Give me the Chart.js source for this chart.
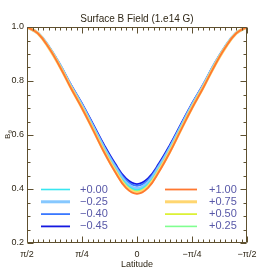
<!DOCTYPE html>
<html><head><meta charset="utf-8">
<script src="https://cdn.jsdelivr.net/npm/chart.js@4/dist/chart.umd.min.js"></script>
<style>html,body{margin:0;padding:0;background:#fff;}#wrap{width:274px;height:274px;}</style>
</head><body><div id="wrap"><canvas id="c" width="274" height="274"></canvas></div>
<script>
// Latitude in degrees (π/2 ... −π/2)
const latitude = [90,81,72,63,54,45,36,27,18,9,0,-9,-18,-27,-36,-45,-54,-63,-72,-81,-90];
const xTickLabels = {"90":"π/2","45":"π/4","0":"0","-45":"−π/4","-90":"−π/2"};
const yTickValues = [0.2,0.4,0.6,0.8,1.0];

const bP100 = [1.000,0.976,0.922,0.852,0.773,0.699,0.619,0.537,0.464,0.404,0.382,0.404,0.464,0.537,0.619,0.699,0.773,0.852,0.922,0.976,1.000];
const bP075 = [1.000,0.976,0.922,0.853,0.775,0.701,0.621,0.540,0.468,0.408,0.386,0.408,0.468,0.540,0.621,0.701,0.775,0.853,0.922,0.976,1.000];
const bP050 = [1.000,0.976,0.923,0.854,0.776,0.703,0.623,0.542,0.470,0.411,0.389,0.411,0.470,0.542,0.623,0.703,0.776,0.854,0.923,0.976,1.000];
const bP025 = [1.000,0.976,0.923,0.855,0.777,0.704,0.625,0.544,0.473,0.414,0.392,0.414,0.473,0.544,0.625,0.704,0.777,0.855,0.923,0.976,1.000];
const bP000 = [1.000,0.976,0.924,0.856,0.778,0.706,0.627,0.547,0.476,0.418,0.396,0.418,0.476,0.547,0.627,0.706,0.778,0.856,0.924,0.976,1.000];
const bM025 = [1.000,0.977,0.925,0.858,0.781,0.709,0.631,0.552,0.482,0.424,0.402,0.424,0.482,0.552,0.631,0.709,0.781,0.858,0.925,0.977,1.000];
const bM040 = [1.000,0.977,0.926,0.860,0.784,0.714,0.637,0.559,0.490,0.433,0.412,0.433,0.490,0.559,0.637,0.714,0.784,0.860,0.926,0.977,1.000];
const bM045 = [1.000,0.977,0.927,0.861,0.786,0.717,0.641,0.564,0.495,0.439,0.418,0.439,0.495,0.564,0.641,0.717,0.786,0.861,0.927,0.977,1.000];

const seriesLabels = ["−0.45","−0.40","−0.25","+0.00","+0.25","+0.50","+0.75","+1.00"];
const seriesValues = [bM045,bM040,bM025,bP000,bP025,bP050,bP075,bP100];
const seriesColors = ["#1418e0","#3a78ff","#86c8ff","#38e6f0","#80ff90","#d8f020","#ffd670","#ff7830"];
const seriesWidths = [1.8,1.8,3,1.6,1.6,1.6,3,1.8];
// legend layout: [column, row]
const legendSlots = {"+0.00":[0,0],"−0.25":[0,1],"−0.40":[0,2],"−0.45":[0,3],"+1.00":[1,0],"+0.75":[1,1],"+0.50":[1,2],"+0.25":[1,3]};

const AXIS = "#5e5030";
const TEXT = "#302818";
const LEG = "#5858a8";
const FONT = "'Liberation Sans', Arial, sans-serif";

const datasets = seriesLabels.map((lab,i)=>({
  label: lab,
  data: latitude.map((x,j)=>({x:x,y:seriesValues[i][j]})),
  borderColor: seriesColors[i],
  backgroundColor: seriesColors[i],
  borderWidth: seriesWidths[i],
  pointRadius: 0,
  tension: 0.4,
  fill: false
}));

const deco = {
  id:'deco',
  afterDraw(chart){
    const {ctx, chartArea:a, scales:{x,y}} = chart;
    ctx.save();
    ctx.strokeStyle = AXIS; ctx.lineWidth = 1;
    const L=Math.round(a.left)+0.5, R=Math.round(a.right)-0.5, T=Math.round(a.top)+0.5, B=Math.round(a.bottom)-0.5;
    ctx.beginPath();
    ctx.moveTo(L,T); ctx.lineTo(R,T); ctx.lineTo(R,B); ctx.lineTo(L,B); ctx.closePath();
    for(let k=-20;k<=20;k++){
      const v=k*4.5; const px=Math.round(x.getPixelForValue(v))+0.5;
      const len = (k%10===0)?6:3;
      ctx.moveTo(px,B); ctx.lineTo(px,B-len);
      ctx.moveTo(px,T); ctx.lineTo(px,T+len);
    }
    for(let k=0;k<=16;k++){
      const v=0.2+k*0.05; const py=Math.round(y.getPixelForValue(v))+0.5;
      const len = (k%4===0)?6:3;
      ctx.moveTo(L,py); ctx.lineTo(L+len,py);
      ctx.moveTo(R,py); ctx.lineTo(R-len,py);
    }
    ctx.stroke();
    // title
    ctx.fillStyle = TEXT; ctx.textAlign='center'; ctx.textBaseline='middle';
    ctx.font = "10px "+FONT;
    ctx.fillText("Surface B Field (1.e14 G)", (a.left+a.right)/2, 19);
    // y title B_theta
    ctx.save();
    ctx.translate(8, (a.top+a.bottom)/2);
    ctx.rotate(-Math.PI/2);
    ctx.font = "8px "+FONT; ctx.textAlign='left';
    ctx.fillText("B", -4, 0);
    ctx.font = "6px "+FONT;
    ctx.fillText("θ", 1.5, 2.5);
    ctx.restore();
    // legend
    ctx.font = "11px "+FONT; ctx.textAlign='left'; ctx.textBaseline='middle';
    chart.data.datasets.forEach(ds=>{
      const s = legendSlots[ds.label]; if(!s) return;
      const yy = 189.5 + s[1]*12.3;
      const x0 = s[0]===0 ? 41 : 165, x1 = s[0]===0 ? 70 : 197, xt = s[0]===0 ? 80 : 209;
      ctx.strokeStyle = ds.borderColor; ctx.lineWidth = ds.borderWidth;
      ctx.beginPath(); ctx.moveTo(x0,yy); ctx.lineTo(x1,yy); ctx.stroke();
      ctx.fillStyle = LEG; ctx.fillText(ds.label, xt, yy);
    });
    ctx.restore();
  }
};

new Chart(document.getElementById('c'), {
  type:'line',
  data:{datasets: datasets.slice().reverse()},
  options:{
    responsive:false, animation:false, devicePixelRatio:1,
    layout:{padding:{left:0,right:27,top:27,bottom:0}},
    plugins:{legend:{display:false}, title:{display:false}, tooltip:{enabled:false}},
    scales:{
      x:{type:'linear', reverse:true, min:-90, max:90,
        afterFit:s=>{s.height=31;},
        grid:{display:false, drawTicks:false},
        border:{display:false},
        ticks:{stepSize:45, autoSkip:false, maxRotation:0, padding:6, color:TEXT, font:{family:FONT,size:9},
          callback:(v)=>xTickLabels[String(v)] ?? ''},
        title:{display:true, text:'Latitude', color:TEXT, font:{family:FONT,size:9}, padding:{top:0,bottom:4}}
      },
      y:{type:'linear', min:0.2, max:1.0,
        afterFit:s=>{s.width=27;},
        grid:{display:false, drawTicks:false},
        border:{display:false},
        afterBuildTicks:s=>{s.ticks = yTickValues.map(v=>({value:v}));},
        ticks:{padding:3, color:TEXT, font:{family:FONT,size:9}, callback:(v)=>Number(v).toFixed(1)}
      }
    }
  },
  plugins:[deco]
});
</script>
</body></html>
